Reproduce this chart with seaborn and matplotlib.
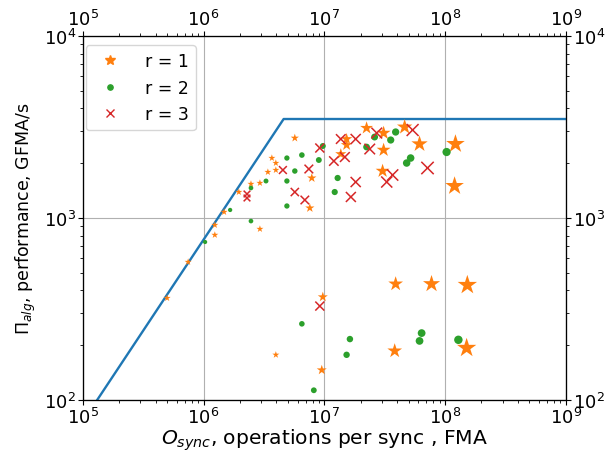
import numpy as np
import pandas as pd
import seaborn as sb
import matplotlib
matplotlib.use("Agg")
import matplotlib.pyplot as plt
from matplotlib.lines import Line2D

# roofline model
peak_perf = 3500.0        # GFMA/s
sync_rate = 7.6e-4        # GFMA/s per op/sync

# r = 1
ops_r1 = [4.99e5, 7.45e5, 1.24e6, 1.24e6, 1.48e6, 1.96e6, 2.47e6, 2.93e6, 2.93e6, 3.41e6,
          3.97e6, 3.68e6, 3.97e6, 5.70e6, 7.88e6, 7.59e6, 1.37e7, 1.53e7, 1.53e7, 2.24e7,
          3.10e7, 4.63e7, 3.10e7, 6.15e7, 3.04e7, 1.22e8, 1.20e8, 9.72e6, 3.97e6, 9.53e6,
          3.90e7, 7.73e7, 1.53e8, 3.83e7, 1.51e8]
perf_r1 = [363, 573, 807, 915, 1079, 1389, 1538, 1557, 870, 1789,
           1835, 2136, 2005, 2752, 1659, 1135, 2247, 2717, 2519, 3123,
           2931, 3162, 2364, 2551, 1812, 2551, 1499, 368, 177, 146,
           434, 434, 428, 186, 193]

# r = 2
ops_r2 = [1.03e6, 1.66e6, 2.47e6, 2.47e6, 3.29e6, 4.90e6, 5.70e6, 4.90e6, 4.90e6, 6.52e6,
          9.01e6, 9.72e6, 1.29e7, 1.22e7, 2.61e7, 2.24e7, 3.90e7, 3.55e7, 5.19e7, 4.81e7,
          1.03e8, 6.52e6, 8.19e6, 1.63e7, 1.53e7, 6.40e7, 6.15e7, 1.29e8]
perf_r2 = [738, 1107, 962, 1462, 1597, 2136, 1812, 1597, 1164, 2218,
           2083, 2487, 1659, 1389, 2786, 2455, 2969, 2683, 2136, 2005,
           2305, 262, 113, 216, 177, 233, 211, 214]

# r = 3
ops_r3 = [2.29e6, 2.29e6, 4.54e6, 5.70e6, 7.45e6, 6.90e6, 9.18e6, 1.20e7, 1.48e7, 1.37e7,
          1.82e7, 1.82e7, 1.66e7, 2.72e7, 2.38e7, 5.39e7, 3.68e7, 3.29e7, 7.16e7, 9.18e6]
perf_r3 = [1355, 1288, 1835, 1389, 1859, 1256, 2425, 2056, 2163, 2717,
           2717, 1577, 1305, 2931, 2394, 3045, 1723, 1577, 1883, 328]

df = pd.concat([
    pd.DataFrame({"ops": ops_r1, "perf": perf_r1, "r": 1}),
    pd.DataFrame({"ops": ops_r2, "perf": perf_r2, "r": 2}),
    pd.DataFrame({"ops": ops_r3, "perf": perf_r3, "r": 3}),
], ignore_index=True)

plt.rcParams['font.size'] = 13
plt.rcParams['xtick.major.pad'] = 1.5
plt.rcParams['ytick.major.pad'] = 1.5

fig = plt.figure(figsize=(6.09, 4.52), dpi=100)
ax = fig.add_axes([0.136, 0.113, 0.793, 0.805])

# roofline
roof_x = np.array([1e5, peak_perf / sync_rate, 1e9])
roof_y = np.minimum(peak_perf, sync_rate * roof_x)
sb.lineplot(x=roof_x, y=roof_y, color="tab:blue", lw=1.7, ax=ax, zorder=3)

# marker size grows with ops/sync (pixel widths -> points^2)
lx = np.log10(df.ops)
w_star = np.maximum(7.0, 7 + 7.8 * (lx - 6.6)) / 1.32
w_dot = np.maximum(4.2, 3.8 + 2.2 * (lx - 6.0)) / 1.39
w_x = np.maximum(6.5, 6.5 + 3.8 * (lx - 6.3)) / 1.39

d1 = df[df.r == 1]
d2 = df[df.r == 2]
d3 = df[df.r == 3]
sb.scatterplot(x=d1.ops, y=d1.perf, marker="*", color="tab:orange", s=w_star[d1.index] ** 2,
               linewidth=0, ax=ax, zorder=4)
sb.scatterplot(x=d2.ops, y=d2.perf, marker="o", color="tab:green", s=w_dot[d2.index] ** 2,
               linewidth=0, ax=ax, zorder=4)
sb.scatterplot(x=d3.ops, y=d3.perf, marker="x", color="tab:red", s=w_x[d3.index] ** 2,
               linewidth=1.1, ax=ax, zorder=4)

ax.set(xscale="log", yscale="log", xlim=(1e5, 1e9), ylim=(1e2, 1e4))
ax.grid(True, which="major", color="#b0b0b0", lw=0.8)
ax.set_xlabel("$O_{sync}$, operations per sync , FMA", fontsize=14.6, labelpad=0)
ax.set_ylabel("$\\Pi_{alg}$, performance, GFMA/s", fontsize=12.5)

ax_r = ax.twinx()
ax_r.set(yscale="log", ylim=(1e2, 1e4))
ax_t = ax.twiny()
ax_t.set(xscale="log", xlim=(1e5, 1e9))

ax.legend(handles=[Line2D([], [], ls="none", marker="*", ms=7, color="tab:orange", label="r = 1"),
                   Line2D([], [], ls="none", marker="o", ms=3.8, color="tab:green", label="r = 2"),
                   Line2D([], [], ls="none", marker="x", ms=5.5, color="tab:red", label="r = 3")],
          loc="upper left", bbox_to_anchor=(0.006, 0.975), borderaxespad=0,
          fontsize=12.5, handletextpad=1.0)

plt.savefig("out.png", dpi=100)
